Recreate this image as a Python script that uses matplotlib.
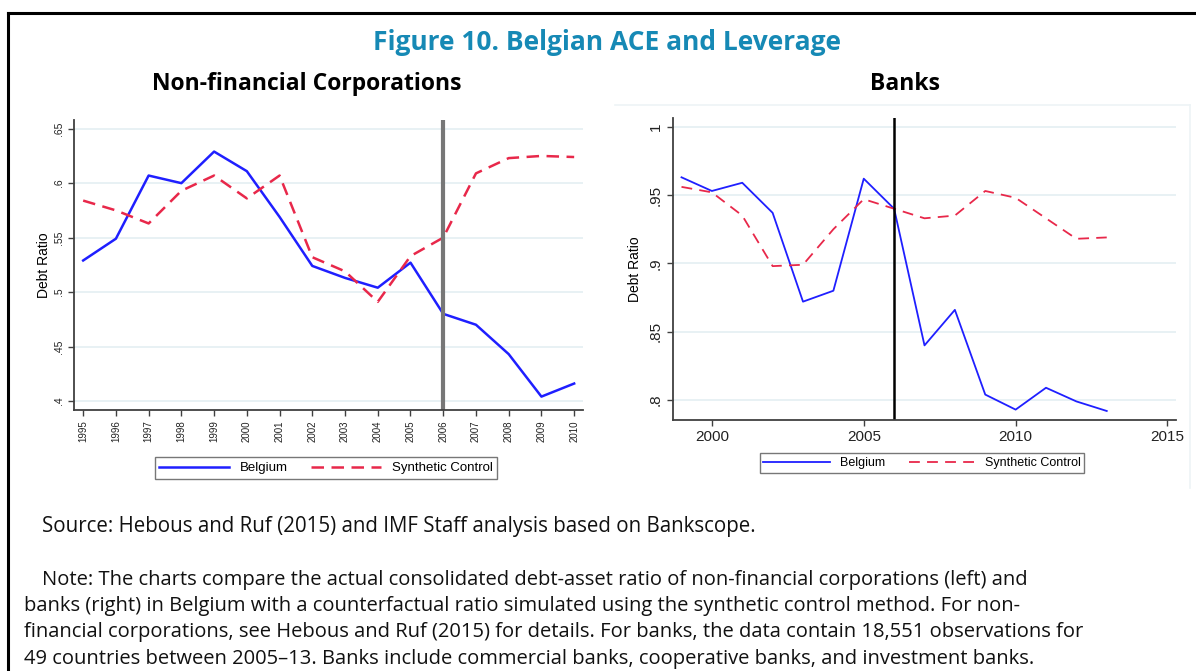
import matplotlib
matplotlib.use("Agg")
import matplotlib.pyplot as plt
from matplotlib.lines import Line2D

# ---------------------------------------------------------------
# Data
# ---------------------------------------------------------------
nfc_years = list(range(1995, 2011))
nfc_belgium = [0.529, 0.549, 0.607, 0.600, 0.629, 0.611, 0.569, 0.524,
               0.513, 0.504, 0.527, 0.480, 0.470, 0.443, 0.404, 0.416]
nfc_synthetic = [0.584, 0.575, 0.563, 0.593, 0.607, 0.586, 0.607, 0.532,
                 0.519, 0.491, 0.533, 0.550, 0.609, 0.623, 0.625, 0.624]
nfc_yticks = [0.4, 0.45, 0.5, 0.55, 0.6, 0.65]
nfc_ylabels = [".4", ".45", ".5", ".55", ".6", ".65"]

bank_years = list(range(1999, 2014))
bank_belgium = [0.963, 0.953, 0.959, 0.937, 0.872, 0.880, 0.962, 0.940,
                0.840, 0.866, 0.804, 0.793, 0.809, 0.799, 0.792]
bank_synthetic = [0.956, 0.952, 0.935, 0.898, 0.899, 0.925, 0.947, 0.940,
                  0.933, 0.935, 0.953, 0.948, 0.933, 0.918, 0.919]
bank_xticks = [2000, 2005, 2010, 2015]
bank_yticks = [0.8, 0.85, 0.9, 0.95, 1.0]
bank_ylabels = [".8", ".85", ".9", ".95", "1"]

treat_year = 2006

title = "Figure 10. Belgian ACE and Leverage"
left_title = "Non-financial Corporations"
right_title = "Banks"
source = "Source: Hebous and Ruf (2015) and IMF Staff analysis based on Bankscope."
note_lines = [
    "Note: The charts compare the actual consolidated debt-asset ratio of non-financial corporations (left) and",
    "banks (right) in Belgium with a counterfactual ratio simulated using the synthetic control method. For non-",
    "financial corporations, see Hebous and Ruf (2015) for details. For banks, the data contain 18,551 observations for",
    "49 countries between 2005\u201313. Banks include commercial banks, cooperative banks, and investment banks.",
]

# ---------------------------------------------------------------
W, H = 1196, 671
BLUE = "#1f1fff"
RED = "#e8284a"
GRID = "#e4eff2"
TEXT_FONT = ["Open Sans", "DejaVu Sans"]
CHART_FONT = ["Liberation Sans", "DejaVu Sans"]


def fx(px):
    return px / W


def fy(py):
    return 1 - py / H


def pix_axes(fig, left, top, right, bottom):
    return fig.add_axes([fx(left), fy(bottom), fx(right - left), (bottom - top) / H])


def style_axes(ax, spine_color):
    for s in ["top", "right"]:
        ax.spines[s].set_visible(False)
    for s in ["left", "bottom"]:
        ax.spines[s].set_color(spine_color)
        ax.spines[s].set_linewidth(1.3)
    ax.tick_params(colors=spine_color, length=4, width=1)
    ax.grid(axis="y", color=GRID, linewidth=1.2)
    ax.set_axisbelow(True)


def fig_line(fig, x0, y0, x1, y1, **kw):
    fig.add_artist(Line2D([fx(x0), fx(x1)], [fy(y0), fy(y1)],
                          transform=fig.transFigure, **kw))


fig = plt.figure(figsize=(W / 100, H / 100), dpi=100)
fig.patch.set_facecolor("white")

# outer black frame (left and top edges visible)
fig_line(fig, 8, 13, 8, H, color="black", lw=2.2)
fig_line(fig, 8, 13, W, 13, color="black", lw=2.2)

# faint panel edges round the right chart
fig_line(fig, 615, 105, 1190, 105, color="#edf4f6", lw=1.2)
fig_line(fig, 1190, 105, 1190, 488, color="#edf4f6", lw=1.2)

fig.text(fx(607), fy(42), title, ha="center", va="center", fontsize=19,
         fontweight="bold", color="#1689b5", family=TEXT_FONT)
fig.text(fx(307), fy(84), left_title, ha="center", va="center", fontsize=16.5,
         fontweight="bold", color="black", family=TEXT_FONT)
fig.text(fx(905), fy(84), right_title, ha="center", va="center", fontsize=16.5,
         fontweight="bold", color="black", family=TEXT_FONT)

# ---------------- left: non-financial corporations ----------------
ax1 = pix_axes(fig, 74, 120, 583, 410)
style_axes(ax1, "#404040")
ax1.plot(nfc_years, nfc_belgium, color=BLUE, lw=1.8, label="Belgium")
ax1.plot(nfc_years, nfc_synthetic, color=RED, lw=1.8, dashes=(5, 3),
         label="Synthetic Control")
ax1.axvline(treat_year, color="#777777", lw=3)
ax1.set_xlim(1994.72, 2010.27)
ax1.set_ylim(0.3917, 0.658)
ax1.set_xticks(nfc_years)
ax1.set_xticklabels([str(y) for y in nfc_years], rotation=90, fontsize=7,
                    family=CHART_FONT, color="#222222")
ax1.set_yticks(nfc_yticks)
ax1.set_yticklabels(nfc_ylabels, rotation=90, va="center", fontsize=7.5,
                    family=CHART_FONT, color="#222222")
ax1.set_ylabel("Debt Ratio", fontsize=10, family=CHART_FONT, labelpad=2)
leg1 = ax1.legend(loc="center", bbox_to_anchor=(fx(326), fy(468)),
                  bbox_transform=fig.transFigure, ncol=2, frameon=True,
                  fancybox=False, edgecolor="#555555", handlelength=5.3,
                  columnspacing=1.8, borderpad=0.35,
                  prop={"family": CHART_FONT, "size": 9.5})
leg1.get_frame().set_linewidth(1.0)

# ---------------- right: banks ----------------
ax2 = pix_axes(fig, 673, 118, 1176, 420)
style_axes(ax2, "#404040")
ax2.plot(bank_years, bank_belgium, color=BLUE, lw=1.3, label="Belgium")
ax2.plot(bank_years, bank_synthetic, color=RED, lw=1.3, dashes=(6, 4),
         label="Synthetic Control")
ax2.axvline(treat_year, color="black", lw=1.8)
ax2.set_xlim(1998.72, 2015.28)
ax2.set_ylim(0.7854, 1.0064)
ax2.set_xticks(bank_xticks)
ax2.set_xticklabels([str(y) for y in bank_xticks], fontsize=11,
                    family=CHART_FONT, color="#222222")
ax2.set_yticks(bank_yticks)
ax2.set_yticklabels(bank_ylabels, rotation=90, va="center", fontsize=11,
                    family=CHART_FONT, color="#222222")
ax2.set_ylabel("Debt Ratio", fontsize=10, family=CHART_FONT, labelpad=5)
leg2 = ax2.legend(loc="center", bbox_to_anchor=(fx(922), fy(463)),
                  bbox_transform=fig.transFigure, ncol=2, frameon=True,
                  fancybox=False, edgecolor="#555555", handlelength=5.3,
                  columnspacing=1.9, borderpad=0.3,
                  prop={"family": CHART_FONT, "size": 9})
leg2.get_frame().set_linewidth(1.0)

# ---------------- source and note ----------------
fig.text(fx(42), fy(532), source, ha="left", va="baseline", fontsize=14.8,
         family=TEXT_FONT, color="#111111")
note_x = [42, 24, 24, 24]
note_base = [585, 611, 637, 664]
for x, yb, line in zip(note_x, note_base, note_lines):
    fig.text(fx(x), fy(yb), line, ha="left", va="baseline", fontsize=14.5,
             family=TEXT_FONT, color="#111111")

fig.savefig("out.png", dpi=100)
